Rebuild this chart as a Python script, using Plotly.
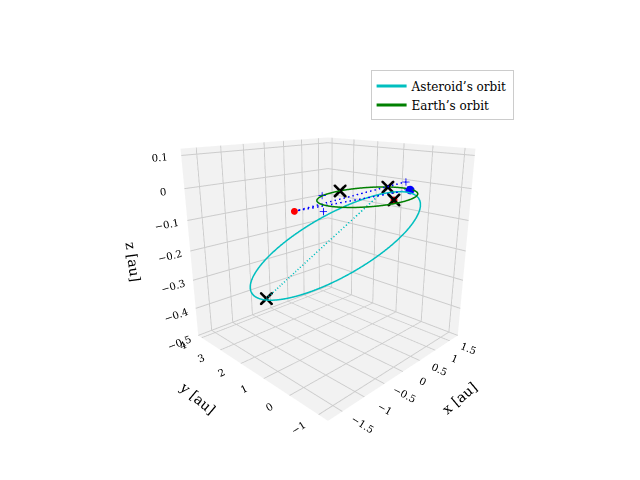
import numpy as np
import plotly.graph_objects as go

# orbit parameters (centre, semi-axis vectors)
earth_centre = [0.0, 0.0, 0.0]
earth_u = [1.0, 0.0, 0.0]
earth_v = [0.0, 1.0, 0.0]
ast_centre = [0.1, 1.5, -0.2]
ast_u = [-0.9, 1.9, -0.18]
ast_v = [-0.32, 0.48, 0.075]

# marked points
red_x = [-0.6, 0.5]
red_y = [1.8, -0.2]
red_z = [-0.06, -0.02]
cross_x = [-0.55, 0.0, 0.88, 0.5]
cross_y = [3.3, 1.0, 0.46, -0.2]
cross_z = [-0.4, 0.0, 0.0, -0.02]
plus_x = [-0.5, -0.6, 1.0, 0.93]
plus_y = [0.9, 0.7, 0.0, -0.15]
plus_z = [0.0, -0.04, 0.02, 0.0]
sun_x = [0.93]
sun_y = [-0.23]
sun_z = [0.0]

t = np.linspace(0, 2 * np.pi, 200)
def ellipse(c, u, v):
    c, u, v = map(np.array, (c, u, v))
    pts = c[:, None] + np.outer(u, np.cos(t)) + np.outer(v, np.sin(t))
    return pts

E = ellipse(earth_centre, earth_u, earth_v)
A = ellipse(ast_centre, ast_u, ast_v)

fig = go.Figure()
fig.add_trace(go.Scatter3d(x=A[0], y=A[1], z=A[2], mode="lines",
                           line=dict(color="#00bfbf", width=3), name="Asteroid’s orbit"))
fig.add_trace(go.Scatter3d(x=E[0], y=E[1], z=E[2], mode="lines",
                           line=dict(color="green", width=3), name="Earth’s orbit"))
# dashed connections
fig.add_trace(go.Scatter3d(x=[cross_x[0], cross_x[2]], y=[cross_y[0], cross_y[2]], z=[cross_z[0], cross_z[2]],
                           mode="lines", line=dict(color="#00bfbf", width=3, dash="dash"), showlegend=False))
fig.add_trace(go.Scatter3d(x=[red_x[0], plus_x[2], None, red_x[0], sun_x[0]],
                           y=[red_y[0], plus_y[2], None, red_y[0], sun_y[0]],
                           z=[red_z[0], plus_z[2], None, red_z[0], sun_z[0]],
                           mode="lines", line=dict(color="blue", width=3, dash="dash"), showlegend=False))
fig.add_trace(go.Scatter3d(x=red_x, y=red_y, z=red_z, mode="markers",
                           marker=dict(color="red", size=4), showlegend=False))
fig.add_trace(go.Scatter3d(x=cross_x, y=cross_y, z=cross_z, mode="markers",
                           marker=dict(color="black", size=3, symbol="x"), showlegend=False))
fig.add_trace(go.Scatter3d(x=plus_x, y=plus_y, z=plus_z, mode="markers",
                           marker=dict(color="blue", size=4, symbol="cross"), showlegend=False))
fig.add_trace(go.Scatter3d(x=sun_x, y=sun_y, z=sun_z, mode="markers",
                           marker=dict(color="blue", size=5), showlegend=False))

ax = dict(showbackground=True, backgroundcolor="#f2f2f2", gridcolor="#cccccc",
          zeroline=False, showspikes=False, tickfont=dict(size=11))
fig.update_layout(
    width=640, height=480, paper_bgcolor="white",
    font=dict(family="DejaVu Serif", color="black"),
    margin=dict(l=0, r=0, t=0, b=0),
    scene=dict(
        xaxis=dict(ax, title="x [au]", range=[-1.8, 1.8], tickvals=[-1.5, -1, -0.5, 0, 0.5, 1, 1.5]),
        yaxis=dict(ax, title="y [au]", range=[-1.3, 4.2], tickvals=[-1, 0, 1, 2, 3, 4]),
        zaxis=dict(ax, title="z [au]", range=[-0.5, 0.12], tickvals=[-0.5, -0.4, -0.3, -0.2, -0.1, 0, 0.1]),
        aspectmode="cube",
        camera=dict(eye=dict(x=-1.6, y=-1.6, z=0.72)),
        domain=dict(x=[0.1, 0.9], y=[0.1, 0.9]),
    ),
    legend=dict(x=0.79, y=0.87, xanchor="right", bordercolor="#cccccc", borderwidth=1,
                bgcolor="white", font=dict(size=12)),
)
fig.write_html("out.html")
